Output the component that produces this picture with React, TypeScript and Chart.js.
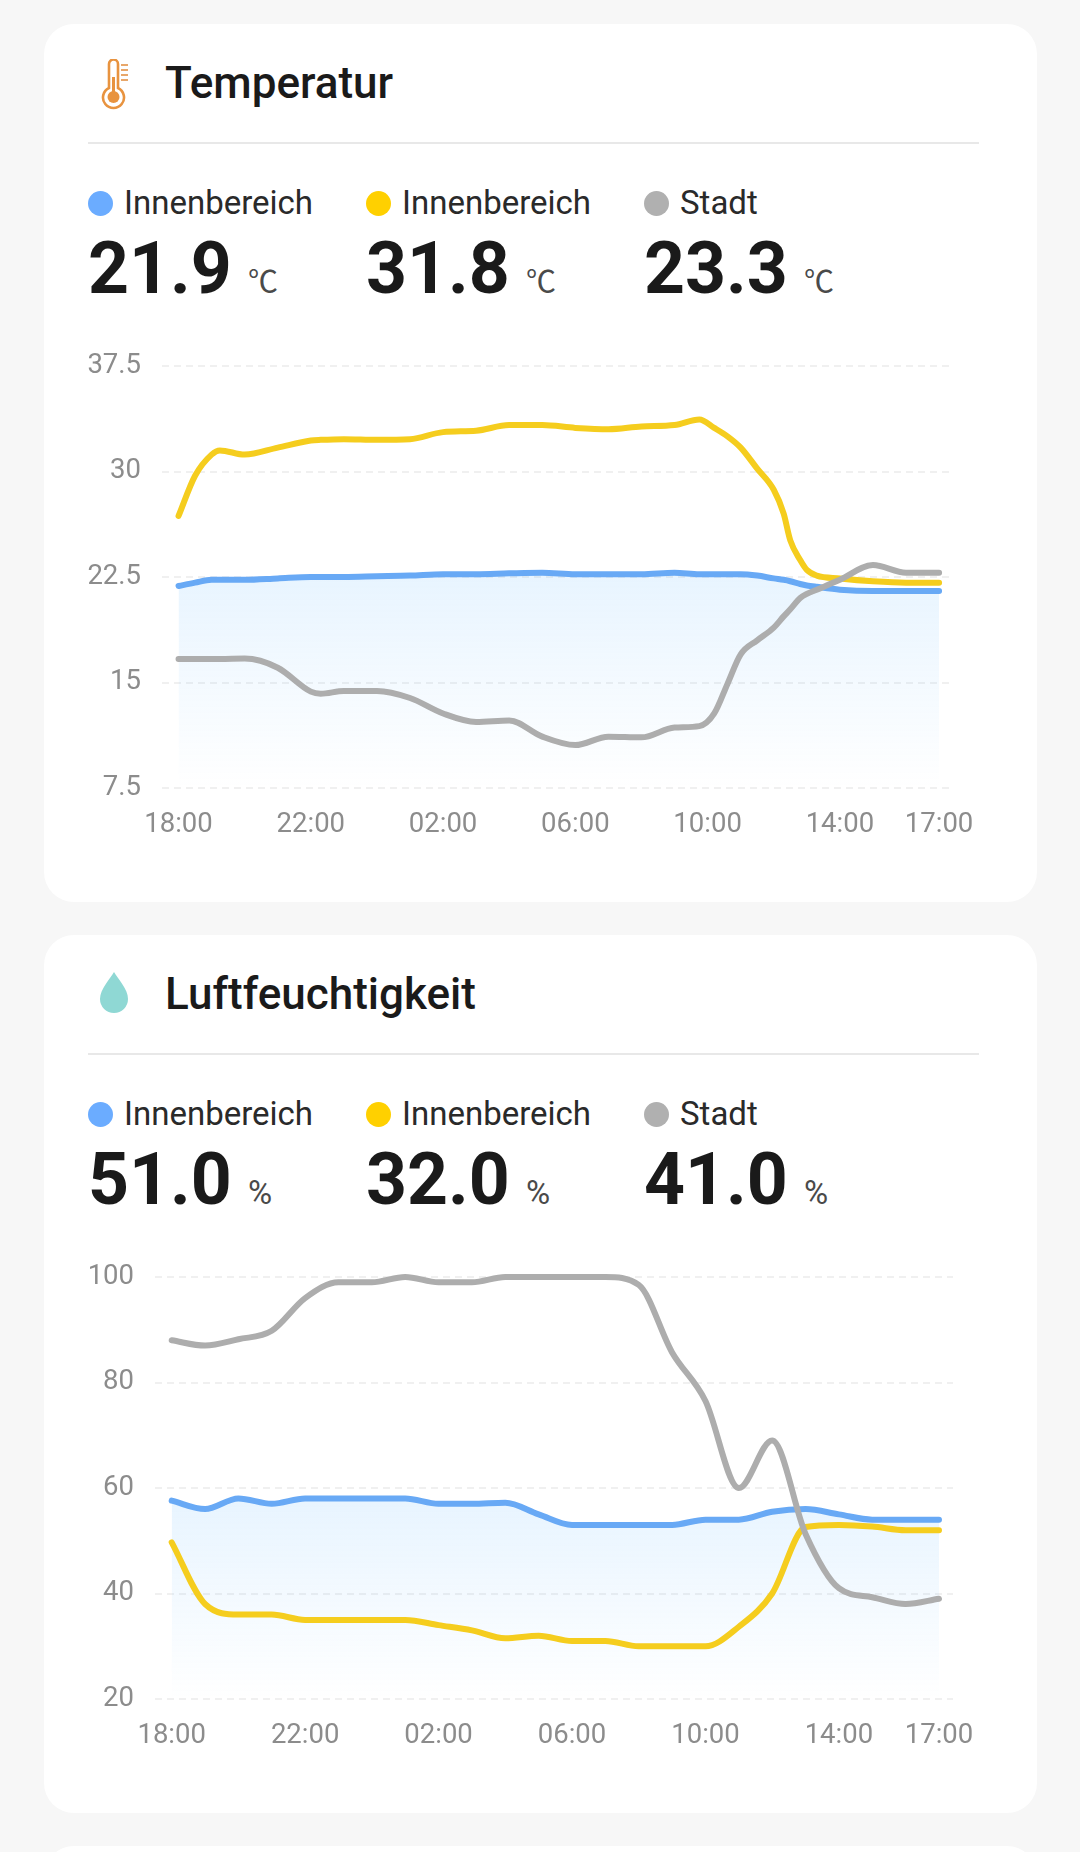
import React, { useEffect, useRef } from 'react';
import Chart from 'chart.js/auto';

const tickHours = [0, 4, 8, 12, 16, 20, 23];
const tickLabels = ['18:00', '22:00', '02:00', '06:00', '10:00', '14:00', '17:00'];

// Temperature samples are not evenly spaced, hours since 18:00
const tempHours = [0, 0.5, 1, 1.25, 2, 3, 4, 4.3, 5, 6, 7, 8, 9, 10, 11, 12, 13, 14, 15, 15.75, 16.2, 16.6, 17, 17.5, 18, 18.3, 18.5, 18.8, 19, 19.3, 20, 21, 22, 23];
const tempBlue = [21.86, 22.1, 22.3, 22.3, 22.3, 22.4, 22.5, 22.5, 22.5, 22.55, 22.6, 22.7, 22.7, 22.76, 22.8, 22.7, 22.7, 22.7, 22.8, 22.7, 22.7, 22.7, 22.7, 22.6, 22.4, 22.3, 22.2, 22.0, 21.9, 21.8, 21.6, 21.5, 21.5, 21.5];
const tempYellow = [26.84, 29.7, 31.2, 31.5, 31.2, 31.7, 32.2, 32.25, 32.3, 32.25, 32.3, 32.8, 32.9, 33.3, 33.3, 33.1, 33.0, 33.2, 33.3, 33.7, 33.1, 32.5, 31.7, 30.2, 28.7, 27, 25.1, 23.7, 23, 22.6, 22.4, 22.2, 22.1, 22.1];
const tempGray = [16.67, 16.67, 16.67, 16.67, 16.7, 16.05, 14.35, 14.2, 14.4, 14.4, 13.9, 12.8, 12.2, 12.3, 11.15, 10.55, 11.15, 11.1, 11.8, 11.9, 12.8, 14.9, 17, 18, 18.9, 19.7, 20.2, 21, 21.3, 21.6, 22.3, 23.35, 22.8, 22.8];
const tempTicks = [7.5, 15, 22.5, 30, 37.5];

const humHours = [0, 1, 2, 3, 4, 5, 6, 7, 8, 9, 10, 11, 12, 13, 14, 15, 16, 17, 18, 19, 20, 21, 22, 23];
const humBlue = [57.6, 56, 58, 57, 58, 58, 58, 58, 57, 57, 57.2, 55, 53, 53, 53, 53, 54, 54, 55.5, 56, 55, 54, 54, 54];
const humYellow = [49.7, 38, 36, 36, 35, 35, 35, 35, 34, 33, 31.5, 32, 31, 31, 30, 30, 30, 33.7, 40, 52.6, 53, 52.7, 52, 52];
const humGray = [88, 87, 88.2, 89.8, 96, 99, 99, 100, 99, 99, 100, 100, 100, 100, 98.5, 85.7, 76.5, 60, 69, 51.3, 41, 39.3, 38, 39];
const humTicks = [20, 40, 60, 80, 100];

const tempValues = ['21.9', '31.8', '23.3'];
const humValues = ['51.0', '32.0', '41.0'];
const legendNames = ['Innenbereich', 'Innenbereich', 'Stadt'];
const dotColors = ['#6bacff', '#ffd000', '#b0b0b0'];
const lineColors = ['#68a9f5', '#f5cd1e', '#adadad'];

const FONT = 'Roboto, sans-serif';

interface TrendChartProps {
  hours: number[];
  series: number[][];
  yTicks: number[];
  plotLeft: number;
  plotRight: number;
  xMax: number;
}

const TrendChart: React.FC<TrendChartProps> = ({ hours, series, yTicks, plotLeft, plotRight, xMax }) => {
  const chartRef = useRef<HTMLCanvasElement>(null);

  useEffect(() => {
    if (!chartRef.current) return;

    const chart = new Chart(chartRef.current, {
      type: 'line',
      data: {
        datasets: series.map((values, i) => ({
          data: values.map((v, j) => ({ x: hours[j], y: v })),
          borderColor: lineColors[i],
          borderWidth: 6,
          borderCapStyle: 'round',
          borderJoinStyle: 'round',
          pointRadius: 0,
          cubicInterpolationMode: 'monotone',
          clip: false,
          order: 2 - i,
          fill: i === 0 ? 'start' : false,
          backgroundColor: (ctx: any) => {
            const { chart: c } = ctx;
            if (!c.chartArea) return 'transparent';
            const top = c.scales.y.getPixelForValue(Math.max(...values));
            const g = c.ctx.createLinearGradient(0, top, 0, c.chartArea.bottom);
            g.addColorStop(0, 'rgba(90, 180, 255, 0.14)');
            g.addColorStop(1, 'rgba(90, 180, 255, 0)');
            return g;
          }
        }))
      },
      options: {
        animation: false,
        responsive: false,
        layout: { autoPadding: false, padding: { top: 26, right: 992 - plotRight } },
        plugins: { legend: { display: false }, tooltip: { enabled: false } },
        scales: {
          x: {
            type: 'linear',
            min: -0.5,
            max: xMax,
            afterBuildTicks: (axis: any) => {
              axis.ticks = tickHours.map(value => ({ value }));
            },
            afterFit: (axis: any) => {
              axis.height = 72;
            },
            grid: { display: false },
            border: { display: false },
            ticks: {
              autoSkip: false,
              maxRotation: 0,
              padding: 13,
              color: '#8c8c8c',
              font: { family: FONT, size: 27.5 },
              callback: (value: any) => tickLabels[tickHours.indexOf(value)]
            }
          },
          y: {
            min: yTicks[0],
            max: yTicks[yTicks.length - 1],
            afterBuildTicks: (axis: any) => {
              axis.ticks = yTicks.map(value => ({ value }));
            },
            afterFit: (axis: any) => {
              // tick padding would otherwise push the plot area down
              axis.width = plotLeft;
              axis.paddingTop = 0;
              axis.paddingBottom = 0;
            },
            grid: { color: '#f0f0f0', lineWidth: 2, drawTicks: false },
            border: { display: false, dash: [7, 5] },
            ticks: {
              padding: 21,
              color: '#8c8c8c',
              font: { family: FONT, size: 27.5 },
              callback: (value: any) => String(value)
            }
          }
        }
      }
    } as any);

    return () => {
      chart.destroy();
    };
  }, [hours, series, yTicks, plotLeft, plotRight, xMax]);

  return <canvas ref={chartRef} width={992} height={520} style={{ position: 'absolute', left: 0, top: 316 }} />;
};

const abs = (left: number, top: number, size: number, extra: React.CSSProperties = {}): React.CSSProperties => ({
  position: 'absolute',
  left,
  top,
  fontSize: size,
  lineHeight: `${size}px`,
  fontFamily: FONT,
  whiteSpace: 'nowrap',
  ...extra
});

const Thermometer = () => (
  <svg width="34" height="52" viewBox="0 0 34 52" style={{ position: 'absolute', left: 56, top: 35 }}>
    <path
      d="M9 5 a4.5 4.5 0 0 1 9 0 V29 a10.5 10.5 0 1 1 -9 0 Z"
      fill="none"
      stroke="#e8933f"
      strokeWidth="2.6"
    />
    <circle cx="13.5" cy="38" r="6" fill="#e8933f" />
    <rect x="12" y="18" width="3" height="16" fill="#e8933f" />
    <path d="M21 6 h7 M21 11 h7 M21 16 h7 M21 21 h7" stroke="#e8a76a" strokeWidth="2" />
  </svg>
);

const Drop = () => (
  <svg width="30" height="42" viewBox="0 0 30 42" style={{ position: 'absolute', left: 55, top: 37 }}>
    <path d="M15 0 C19 7 29 17 29 27 A14 14 0 0 1 1 27 C1 17 11 7 15 0 Z" fill="#8fd8d4" />
  </svg>
);

interface CardProps {
  top: number;
  title: string;
  icon: React.ReactNode;
  values: string[];
  unit: string;
  unitFont: string;
  unitSize: number;
  unitTop: number;
  children?: React.ReactNode;
}

const Card: React.FC<CardProps> = ({ top, title, icon, values, unit, unitFont, unitSize, unitTop, children }) => (
  <div
    style={{
      position: 'absolute',
      left: 44,
      top,
      width: 993,
      height: 878,
      background: '#fff',
      borderRadius: 30
    }}
  >
    {icon}
    {title && (
      <>
        <div style={abs(121, 37, 44, { fontWeight: 500, color: '#1a1a1a' })}>{title}</div>
        <div style={{ position: 'absolute', left: 44, top: 118, width: 891, height: 2, background: '#e8e8e8' }} />
        {legendNames.map((name, i) => (
          <React.Fragment key={i}>
            <div
              style={{
                position: 'absolute',
                left: 44 + i * 278,
                top: 167,
                width: 25,
                height: 25,
                borderRadius: '50%',
                background: dotColors[i]
              }}
            />
            <div style={abs(80 + i * 278, 162, 33, { color: '#2a2a2a' })}>{name}</div>
            <div style={abs(44 + i * 278, 208.5, 71.5, { fontWeight: 700, color: '#1a1a1a' })}>{values[i]}</div>
            <div style={abs(204 + i * 278, unitTop, unitSize, { color: '#4a4a4a', fontFamily: unitFont })}>{unit}</div>
          </React.Fragment>
        ))}
      </>
    )}
    {children}
  </div>
);

const tempSeries = [tempBlue, tempYellow, tempGray];
const humSeries = [humBlue, humYellow, humGray];

export default function App() {
  return (
    <div style={{ position: 'relative', width: 1080, height: 1852, overflow: 'hidden', background: '#f7f7f7' }}>
      <style>{'html, body { margin: 0; background: #f7f7f7; overflow: hidden; }'}</style>
      <Card top={24} title="Temperatur" icon={<Thermometer />} values={tempValues} unit="℃" unitFont="'Noto Sans CJK SC', sans-serif" unitSize={30} unitTop={239.5}>
        <TrendChart hours={tempHours} series={tempSeries} yTicks={tempTicks} plotLeft={118} plotRight={906} xMax={23.33} />
      </Card>
      <Card top={935} title="Luftfeuchtigkeit" icon={<Drop />} values={humValues} unit="%" unitFont={FONT} unitSize={33} unitTop={241}>
        <TrendChart hours={humHours} series={humSeries} yTicks={humTicks} plotLeft={111} plotRight={909} xMax={23.42} />
      </Card>
      <Card top={1846} title="" icon={null} values={[]} unit="" unitFont={FONT} unitSize={33} unitTop={241} />
    </div>
  );
}
